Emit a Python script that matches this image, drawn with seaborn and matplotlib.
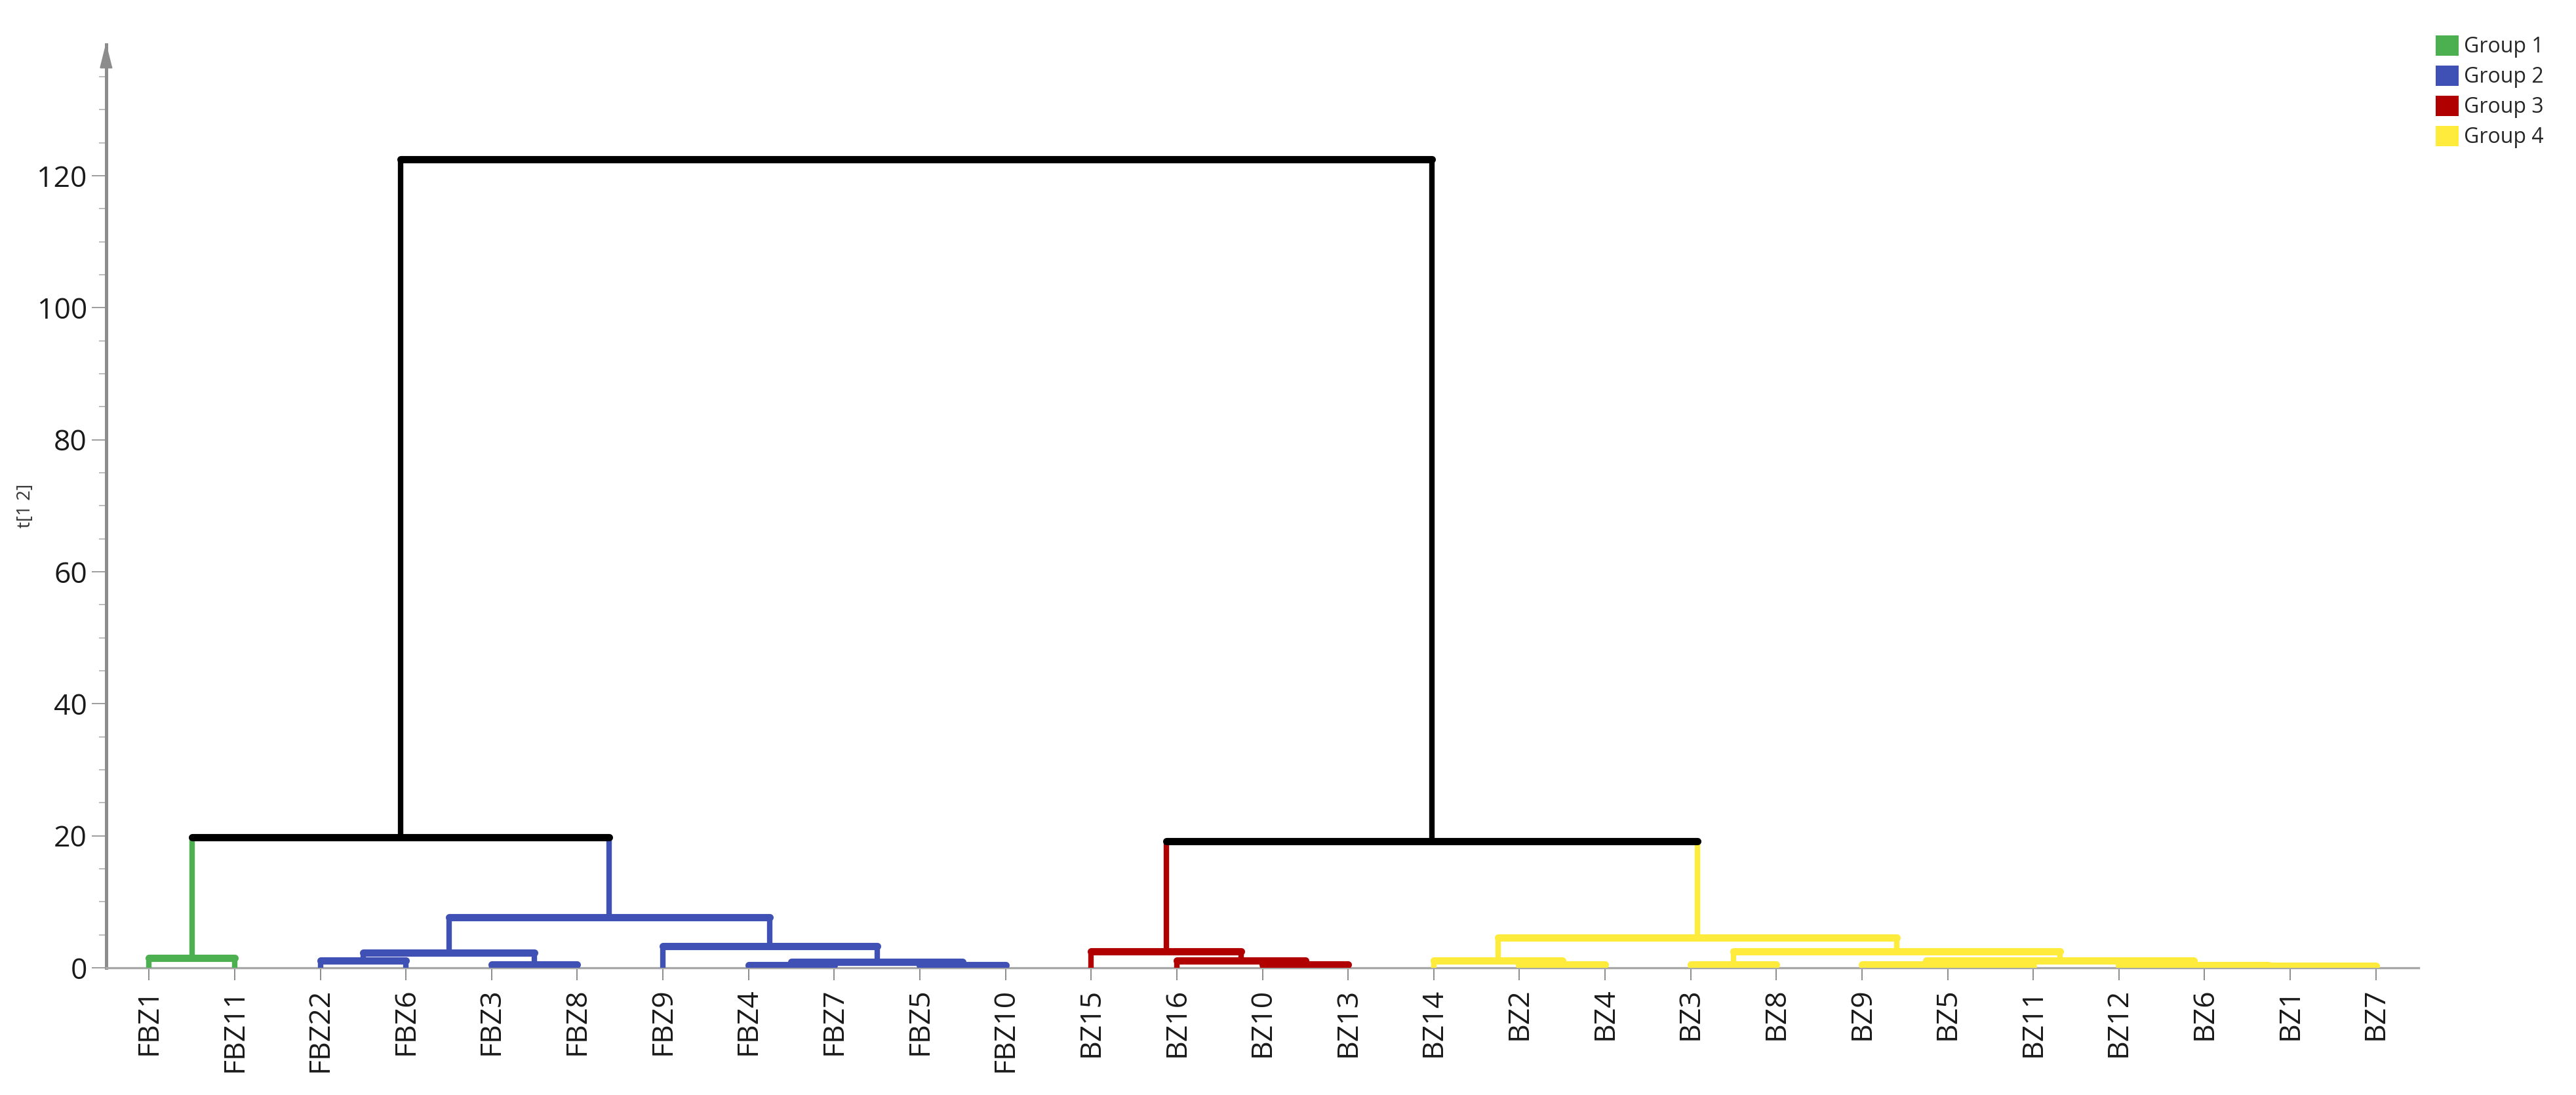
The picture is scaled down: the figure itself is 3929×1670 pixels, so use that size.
import matplotlib
matplotlib.use('Agg')
import matplotlib.pyplot as plt
from matplotlib.patches import Patch
from matplotlib.ticker import MultipleLocator
import seaborn as sns
import pandas as pd

# leaves, left to right
leaf_labels = ['FBZ1', 'FBZ11', 'FBZ22', 'FBZ6', 'FBZ3', 'FBZ8', 'FBZ9', 'FBZ4', 'FBZ7',
               'FBZ5', 'FBZ10', 'BZ15', 'BZ16', 'BZ10', 'BZ13', 'BZ14', 'BZ2', 'BZ4',
               'BZ3', 'BZ8', 'BZ9', 'BZ5', 'BZ11', 'BZ12', 'BZ6', 'BZ1', 'BZ7']
leaf_groups = ['Group 1'] * 2 + ['Group 2'] * 9 + ['Group 3'] * 4 + ['Group 4'] * 12

# merges: nodes 0-26 are the leaves, merge k makes node 27 + k
merge_left = [0, 2, 4, 28, 7, 9, 31, 6, 30,
              13, 12, 11,
              16, 15, 18, 21, 20, 25, 24, 23, 43, 41, 40,
              27, 38, 50]
merge_right = [1, 3, 5, 29, 8, 10, 32, 33, 34,
               14, 36, 37,
               17, 39, 19, 22, 42, 26, 44, 45, 46, 47, 48,
               35, 49, 51]
merge_height = [1.5, 1.1, 0.5, 2.3, 0.4, 0.4, 0.9, 3.3, 7.6,
                0.5, 1.1, 2.5,
                0.5, 1.1, 0.5, 0.2, 0.45, 0.25, 0.3, 0.35, 1.1, 2.45, 4.6,
                19.8, 19.2, 122.5]

group_colors = {'Group 1': '#4CAF50', 'Group 2': '#3F51B5',
                'Group 3': '#B00000', 'Group 4': '#FFEB3B', 'link': 'black'}

# build the dendrogram segments from the merge table
n = len(leaf_labels)
node_x = list(range(n))
node_h = [0.0] * n
node_grp = list(leaf_groups)
vert_rows, horiz_rows = [], []
for k, (a, b, h) in enumerate(zip(merge_left, merge_right, merge_height)):
    grp = node_grp[a] if node_grp[a] == node_grp[b] else 'link'
    for c in (a, b):
        vert_rows.append(dict(seg=f'v{k}_{c}', x=node_x[c], y=node_h[c], grp=node_grp[c]))
        vert_rows.append(dict(seg=f'v{k}_{c}', x=node_x[c], y=h, grp=node_grp[c]))
    horiz_rows.append(dict(seg=f'h{k}', x=node_x[a], y=h, grp=grp))
    horiz_rows.append(dict(seg=f'h{k}', x=node_x[b], y=h, grp=grp))
    node_x.append((node_x[a] + node_x[b]) / 2)
    node_h.append(h)
    node_grp.append(grp)
vdf = pd.DataFrame(vert_rows)
hdf = pd.DataFrame(horiz_rows)

sns.set_theme(style='white')
plt.rcParams['font.family'] = ['Open Sans', 'DejaVu Sans']

fig = plt.figure(figsize=(3929 / 200, 1670 / 200), dpi=200)
ax = fig.add_axes([0.04123, 0.1162, 0.8977, 0.8433])

sns.lineplot(data=vdf, x='x', y='y', units='seg', estimator=None, hue='grp',
             palette=group_colors, sort=False, legend=False, linewidth=3.0, ax=ax, zorder=3)
sns.lineplot(data=hdf, x='x', y='y', units='seg', estimator=None, hue='grp',
             palette=group_colors, sort=False, legend=False, linewidth=4.0, ax=ax, zorder=3)

ax.set_xlim(-0.5, 26.5)
ax.set_ylim(0, 139.9)
sns.despine(ax=ax)
ax.spines['left'].set_color('#8c8c8c')
ax.spines['left'].set_linewidth(1.8)
ax.spines['bottom'].set_color('#a8a8a8')
ax.spines['bottom'].set_linewidth(1.2)

# axis arrow head
ax.plot([-0.5], [138.2], marker=[(0, 1), (-0.5, -1), (0.5, -1)], markersize=12.6,
        color='#8c8c8c', clip_on=False, zorder=4)

ax.set_xticks(range(n))
ax.set_xticklabels(leaf_labels, rotation=90, fontsize=16, color='#1a1a1a')
ax.set_yticks(range(0, 121, 20))
ax.set_yticklabels([str(v) for v in range(0, 121, 20)], fontsize=16, color='#1a1a1a')
ax.yaxis.set_minor_locator(MultipleLocator(5))
ax.tick_params(axis='x', which='major', direction='out', length=7, width=0.7,
               color='#8c8c8c', pad=4, bottom=True)
ax.tick_params(axis='y', which='major', direction='out', length=8, width=0.6,
               color='#8c8c8c', pad=2.5, left=True)
ax.tick_params(axis='y', which='minor', direction='out', length=4, width=0.6,
               color='#b0b0b0', left=True)

ax.set_xlabel('')
ax.set_ylabel('t[1 2]', fontsize=10, color='#333333')
ax.yaxis.set_label_coords(-0.031, 0.5)

handles = [Patch(facecolor=group_colors[g], edgecolor='none') for g in ['Group 1', 'Group 2', 'Group 3', 'Group 4']]
fig.legend(handles, ['Group 1', 'Group 2', 'Group 3', 'Group 4'], loc='upper left',
           bbox_to_anchor=(3715 / 3929, 1 - 54 / 1670), frameon=False, borderpad=0,
           borderaxespad=0, fontsize=11.5, handlelength=1.1, handleheight=1.1,
           handletextpad=0.25, labelspacing=0.37)

fig.savefig('out.png', dpi=200)
